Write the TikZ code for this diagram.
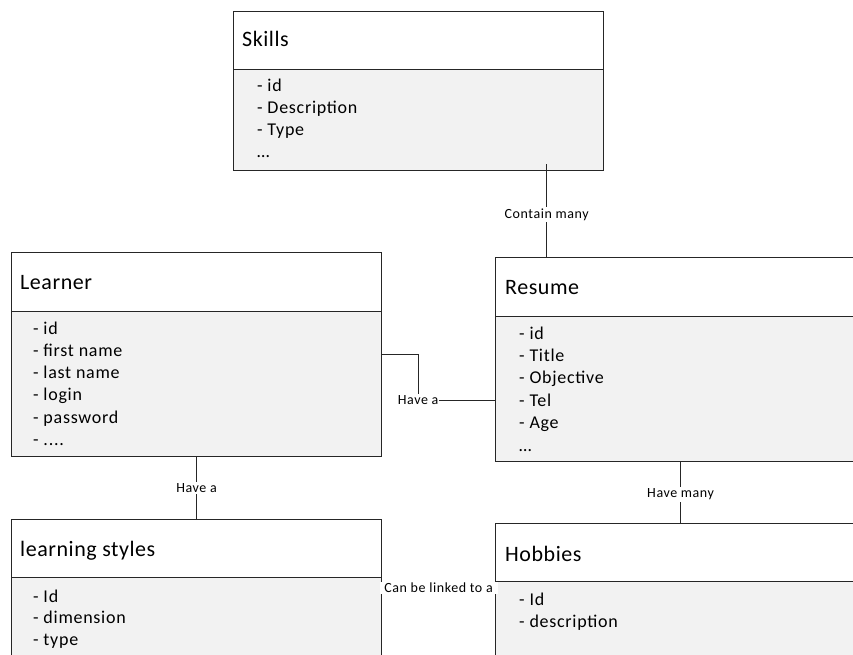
\documentclass[tikz,border=0pt]{standalone}
\usepackage{fontspec}
\setmainfont{Carlito}
\newfontfamily\titlefont[LetterSpace=2.5]{Carlito}
\newfontfamily\itemfont[LetterSpace=4]{Carlito}
\newfontfamily\labelfont[LetterSpace=4]{Carlito}
\usetikzlibrary{calc}
\definecolor{bodygray}{HTML}{F2F2F2}
\definecolor{edge}{HTML}{262626}

\begin{document}
\begin{tikzpicture}[x=1pt,y=-1pt,
  hdr/.style={draw=edge, line width=1.2pt, fill=white, rectangle, inner sep=0pt,
    minimum width=370pt, anchor=north west},
  bodybox/.style={draw=edge, line width=1.2pt, fill=bodygray, rectangle, inner sep=0pt,
    minimum width=370pt, anchor=north west},
  ttl/.style={anchor=base west, inner sep=0pt, font=\titlefont\fontsize{22}{26}\selectfont},
  item/.style={anchor=base west, inner sep=0pt, font=\itemfont\fontsize{18}{22}\selectfont},
  lbl/.style={fill=white, inner xsep=1pt, inner ysep=1.5pt, font=\labelfont\fontsize{14}{16}\selectfont},
  link/.style={draw=edge, line width=1pt}]

\useasboundingbox (0,0) rectangle (853,655);
\clip (0,0) rectangle (853,655);

% ---------- Skills ----------
\node[hdr, minimum height=58pt] (skH) at (233,11) {};
\node[bodybox, minimum height=101pt] (skB) at (233,69) {};
\node[ttl] (skT) at (242,47) {Skills};
\node[item] (sk1) at (257,92) {- id};
\node[item] (sk2) at (257,114) {- Description};
\node[item] (sk3) at (257,136) {- Type};
\node[item] (sk4) at (257,158) {\dots};

% ---------- Learner ----------
\node[hdr, minimum height=59pt] (lnH) at (11,252) {};
\node[bodybox, minimum height=145pt] (lnB) at (11,311) {};
\node[ttl] (lnT) at (20,289) {Learner};
\node[item] (ln1) at (33,334) {- id};
\node[item] (ln2) at (33,356.3) {- first name};
\node[item] (ln3) at (33,378.6) {- last name};
\node[item] (ln4) at (33,400.9) {- login};
\node[item] (ln5) at (33,423.2) {- password};
\node[item] (ln6) at (33,445.5) {- ....};

% ---------- Resume ----------
\node[hdr, minimum height=59pt] (resH) at (495,257) {};
\node[bodybox, minimum height=145pt] (resB) at (495,316) {};
\node[ttl] (resT) at (505,294) {Resume};
\node[item] (res1) at (519,339) {- id};
\node[item] (res2) at (519,361.4) {- Title};
\node[item] (res3) at (519,383.8) {- Objective};
\node[item] (res4) at (519,406.2) {- Tel};
\node[item] (res5) at (519,428.6) {- Age};
\node[item] (res6) at (519,451) {\dots};

% ---------- learning styles ----------
\node[hdr, minimum height=58pt] (lsH) at (11,519) {};
\node[bodybox, minimum height=123pt] (lsB) at (11,577) {};
\node[ttl] (lsT) at (20,556) {learning styles};
\node[item] (ls1) at (33,602) {- Id};
\node[item] (ls2) at (33,623.5) {- dimension};
\node[item] (ls3) at (33,645) {- type};

% ---------- Hobbies ----------
\node[hdr, minimum height=58pt] (hobH) at (495,523) {};
\node[bodybox, minimum height=119pt] (hobB) at (495,581) {};
\node[ttl] (hobT) at (505,561) {Hobbies};
\node[item] (hob1) at (519,605) {- Id};
\node[item] (hob2) at (519,627) {- description};

% ---------- relations ----------
% Skills -- Resume
\coordinate (skOut) at ($(skB.south west)!0.845!(skB.south east)+(0,-7)$);
\draw[link] (skOut) -- (skOut |- resH.north)
  node[lbl, pos=0.54] (lab1) {Contain many};

% Learner -- Resume (elbow)
\coordinate (lrA) at ($(lnB.north east)+(0,43)$);
\coordinate (lrK) at ($(lrA)+(36,0)$);
\coordinate (lrB) at ($(resB.north west)+(0,84)$);
\draw[link] (lrA) -- (lrK) |- (lrB);
\node[lbl] (lab2) at (lrK |- lrB) {Have a};

% Learner -- learning styles
\draw[link] (lnB.south) -- (lsH.north) node[lbl, midway] (lab3) {Have a};

% Resume -- Hobbies
\draw[link] (resB.south) -- (hobH.north) node[lbl, pos=0.53] (lab4) {Have many};

% learning styles -- Hobbies
\coordinate (lhA) at ($(lsB.north east)+(0,11)$);
\draw[link] (lhA) -- (lhA -| hobB.west)
  node[lbl, midway, inner xsep=0pt, minimum width=118pt] (lab5) {Can be linked to a};

\end{tikzpicture}
\end{document}
